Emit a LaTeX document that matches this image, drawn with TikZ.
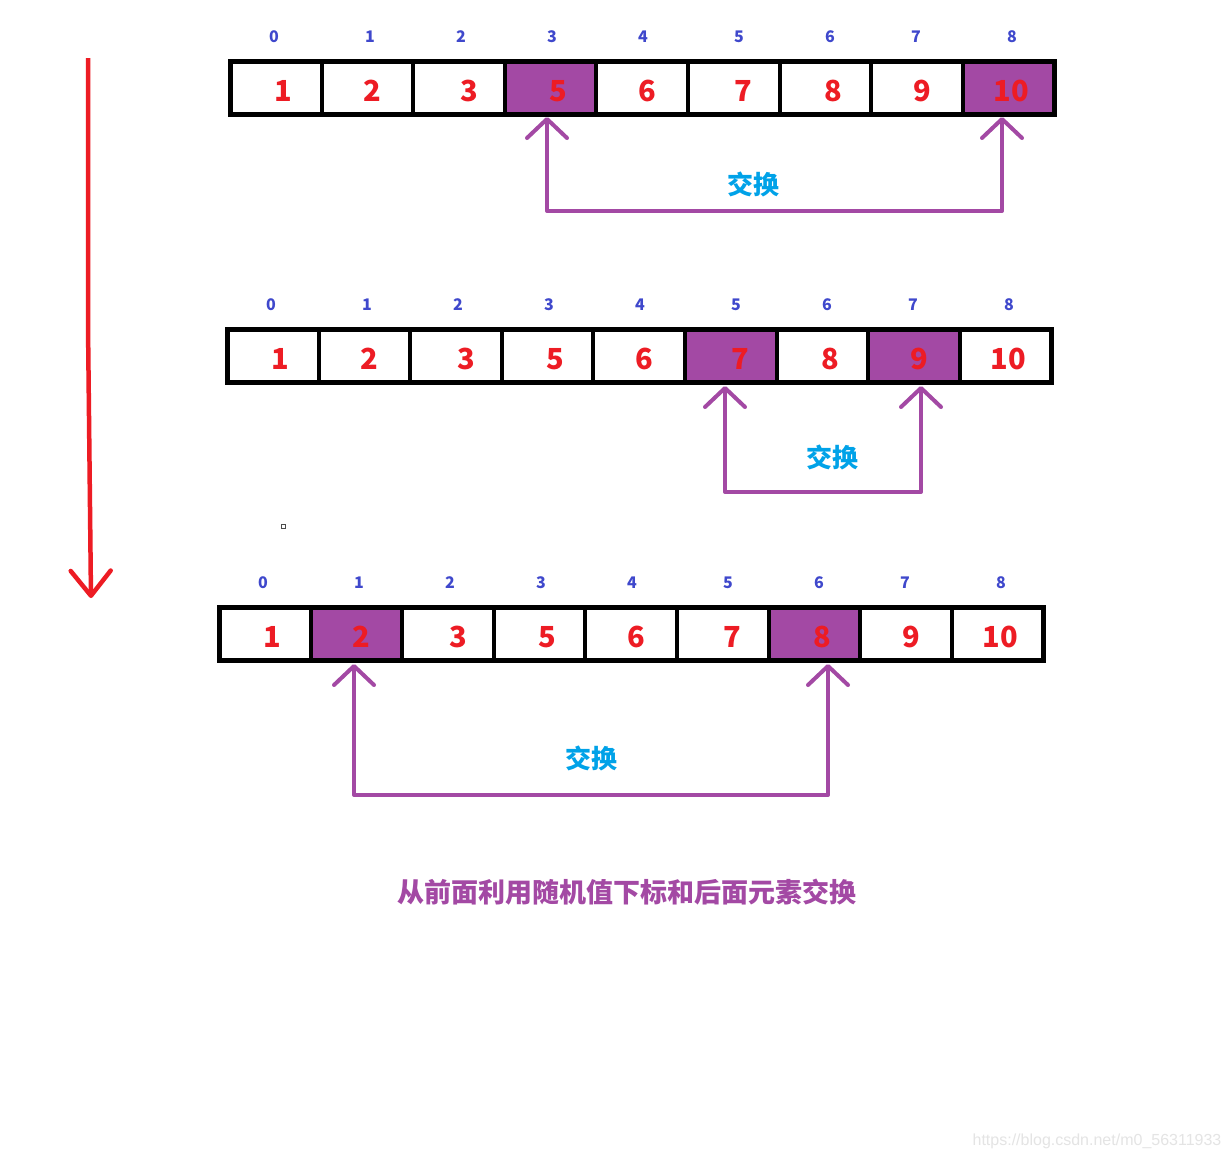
\documentclass[tikz,border=0pt]{standalone}
\usepackage{fontspec}
\usetikzlibrary{arrows.meta}
\newfontfamily\cjk{Noto Sans CJK SC}
\newfontfamily\wmfont{Liberation Sans}
\definecolor{pp}{HTML}{A349A4}
\definecolor{rd}{HTML}{ED1C24}
\definecolor{ix}{HTML}{3F48CC}
\definecolor{sw}{HTML}{00A2E8}
\definecolor{wm}{HTML}{E4E4E4}
\tikzset{
  cellbox/.style={draw=black, line width=4pt, minimum width=91.6pt, minimum height=53pt, inner sep=0pt, outer sep=0pt},
  hl/.style={fill=pp},
  numtxt/.style={text=rd, font=\cjk\bfseries\fontsize{29}{29}\selectfont, inner sep=0pt},
  idxtxt/.style={text=ix, font=\cjk\bfseries\fontsize{16}{16}\selectfont, inner sep=0pt},
  swaptxt/.style={text=sw, font=\cjk\bfseries\fontsize{26}{26}\selectfont, inner sep=0pt},
  swapline/.style={draw=pp, line width=4pt, line cap=round, line join=round,
     {Straight Barb[length=19pt,width=40pt,round]}-{Straight Barb[length=19pt,width=40pt,round]}},
  redline/.style={draw=rd, line width=4.5pt, line join=round, -{Straight Barb[length=25pt,width=40pt,round]}},
}
\newcommand\drawarray[4]{% name, dx, dy, highlighted list
\begin{scope}[shift={(#2,#3)}]
  \foreach \i/\v/\nx/\ix in {0/1/283/274,1/2/372/370,2/3/469/461,3/5/558/552,4/6/647/643,5/7/743/739,6/8/833/830,7/9/922/916,8/10/1011/1012}{
    \def\hlflag{0}
    \foreach \h in {#4}{\ifnum\h=\i\relax\xdef\hlflag{1}\fi}
    \ifnum\hlflag=1\relax
      \node[cellbox, hl] (#1c\i) at ({230+91.6*\i+45.8},88) {};
    \else
      \node[cellbox] (#1c\i) at ({230+91.6*\i+45.8},88) {};
    \fi
    \node[numtxt] (#1n\i) at (\nx,91) {\v};
    \node[idxtxt] (#1i\i) at (\ix,37) {\i};
  }
  \draw[line width=5pt] (#1c0.north west) rectangle (#1c8.south east);
\end{scope}
}
\begin{document}
\begin{tikzpicture}[x=1pt,y=-1pt]
\useasboundingbox[fill=white] (0,0) rectangle (1230,1160);

% red progress arrow
\coordinate (rs) at (88,58);
\coordinate (rm) at (88,325);
\coordinate (re) at (91,598);
\draw[redline] (rs) -- (rm) -- (re);

% arrays
\drawarray{a}{0}{0}{3,8}
\drawarray{b}{-3}{268}{5,7}
\drawarray{c}{-11}{546}{1,6}

% swap connectors
\coordinate (aL) at (547,117);
\coordinate (aLb) at (547,211);
\coordinate (aRb) at (1002,211);
\coordinate (aR) at (1002,117);
\draw[swapline] (aL) -- (aLb) -- (aRb) -- (aR);
\node[swaptxt] (as) at (753,184) {交换};

\coordinate (bL) at (725,386);
\coordinate (bLb) at (725,492);
\coordinate (bRb) at (921,492);
\coordinate (bR) at (921,386);
\draw[swapline] (bL) -- (bLb) -- (bRb) -- (bR);
\node[swaptxt] (bs) at (832,457) {交换};

\coordinate (cL) at (354,664);
\coordinate (cLb) at (354,795);
\coordinate (cRb) at (828,795);
\coordinate (cR) at (828,664);
\draw[swapline] (cL) -- (cLb) -- (cRb) -- (cR);
\node[swaptxt] (cs) at (591,758) {交换};

% small marker
\node[draw=black!70, line width=1pt, minimum width=4pt, minimum height=4pt, inner sep=0pt] (dot) at (283,526) {};

% caption
\node[text=pp, font=\cjk\bfseries\fontsize{27}{27}\selectfont, inner sep=0pt] (cap) at (627,892) {从前面利用随机值下标和后面元素交换};

% watermark
\node[text=wm, font=\wmfont\fontsize{16}{16}\selectfont, inner sep=0pt] (wmk) at (1097,1141) {https://blog.csdn.net/m0\_56311933};
\end{tikzpicture}
\end{document}
